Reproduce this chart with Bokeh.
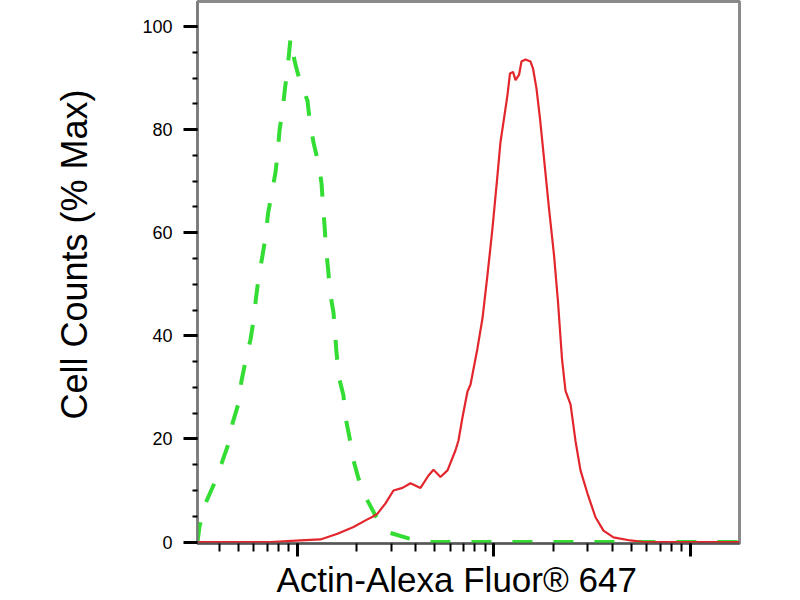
from bokeh.plotting import figure
from bokeh.models import Range1d, SingleIntervalTicker, LogTicker, Title, CustomJSTickFormatter
from bokeh.embed import file_html
from bokeh.resources import INLINE

# ---- data ----
# isotype control (green dashed): fluorescence intensity vs % max
control_x = [30.98, 31.72, 34.02, 37.36, 41.04, 44.57, 46.70, 50.09, 51.88, 54.37,
             57.67, 59.74, 61.51, 63.33, 66.37, 68.76, 70.79, 73.76, 77.27, 79.10,
             80.98, 83.89, 86.38, 88.93, 92.13, 96.54, 100.0, 103.6, 108.5, 112.4,
             115.8, 120.6, 127.9, 132.5, 134.9, 137.3, 139.6, 143.0, 146.4, 152.5,
             155.2, 157.9, 162.6, 171.4, 175.5, 183.9, 192.8, 204.4, 224.4, 249.5,
             293.9, 367.2, 464.2, 17760]
control_y = [0.0, 3.0, 7.5, 11.0, 15.2, 19.1, 23.0, 26.9, 31.3, 35.0,
             39.3, 43.0, 47.4, 51.1, 55.6, 59.1, 63.7, 67.4, 71.7, 75.1,
             79.8, 83.7, 88.0, 91.7, 97.7, 93.4, 91.1, 89.1, 87.2, 85.6,
             81.3, 77.5, 73.4, 69.6, 65.1, 61.4, 56.9, 53.1, 48.4, 44.5,
             40.6, 36.8, 31.9, 28.4, 24.2, 20.3, 15.8, 12.3, 8.4, 5.1,
             1.8, 0.7, 0.0, 0.0]

# Actin-Alexa Fluor 647 stained sample (red)
actin_x = [30.98, 72.9, 103.6, 130.9, 159.8, 192.8, 221.9, 240.9, 255.3, 280.4,
           307.9, 342.2, 375.9, 422.7, 464.2, 492.1, 534.2, 580.0, 637.0, 659.7,
           691.4, 716.1, 733.1, 759.3, 824.1, 873.9, 926.6, 982.6, 1042, 1079,
           1118, 1171, 1206, 1250, 1287, 1341, 1380, 1447, 1534, 1579,
           1645, 1714, 1797, 1905, 2020, 2117, 2219, 2312, 2452, 2599,
           2756, 2991, 3285, 3608, 4057, 4951, 5766, 17760]
actin_y = [0.0, 0.0, 0.3, 0.5, 1.6, 2.9, 4.2, 4.9, 5.5, 7.5,
           10.0, 10.5, 11.4, 10.5, 12.9, 14.0, 12.6, 13.9, 17.8, 19.7,
           24.2, 27.2, 29.2, 30.5, 37.6, 43.4, 51.8, 60.9, 71.2, 77.6,
           81.5, 86.7, 90.9, 91.2, 89.6, 90.6, 93.2, 93.6, 93.2, 91.9,
           88.0, 82.2, 74.4, 64.7, 55.7, 46.6, 35.5, 29.3, 26.7, 19.6,
           13.9, 9.4, 4.8, 2.2, 0.9, 0.3, 0.0, 0.0]

x_title = "Actin-Alexa Fluor® 647"
y_title = "Cell Counts (% Max)"

FONT = "Liberation Sans"

p = figure(width=800, height=600, x_axis_type="log",
           x_range=Range1d(30.98, 17760), y_range=Range1d(-0.29, 104.85),
           output_backend="svg", toolbar_location=None,
           min_border_left=197, min_border_right=61,
           min_border_top=1, min_border_bottom=57)

p.background_fill_color = "white"
p.border_fill_color = "white"
p.outline_line_color = "#8a8a8a"
p.outline_line_width = 3
p.xgrid.visible = False
p.ygrid.visible = False

# y axis
p.yaxis.ticker = SingleIntervalTicker(interval=20, num_minor_ticks=4)
p.yaxis.axis_line_color = "#7a7a7a"
p.yaxis.axis_line_width = 2
p.yaxis.major_tick_line_color = "black"
p.yaxis.major_tick_line_width = 3
p.yaxis.major_tick_out = 14
p.yaxis.major_tick_in = 0
p.yaxis.minor_tick_line_color = "black"
p.yaxis.minor_tick_line_width = 2
p.yaxis.minor_tick_out = 5
p.yaxis.minor_tick_in = 0
p.yaxis.major_label_text_font = FONT
p.yaxis.major_label_text_font_size = "18px"
p.yaxis.major_label_text_color = "black"
p.yaxis.major_label_standoff = 11

# x axis (log, no tick labels)
p.xaxis.ticker = LogTicker(num_minor_ticks=10)
p.xaxis.formatter = CustomJSTickFormatter(code="return ''")
p.xaxis.major_label_text_font_size = "1px"
p.xaxis.axis_line_color = "#555555"
p.xaxis.axis_line_width = 2
p.xaxis.major_tick_line_color = "black"
p.xaxis.major_tick_line_width = 3
p.xaxis.major_tick_out = 13
p.xaxis.major_tick_in = 0
p.xaxis.minor_tick_line_color = "black"
p.xaxis.minor_tick_line_width = 2
p.xaxis.minor_tick_out = 8
p.xaxis.minor_tick_in = 0
p.xaxis.major_label_standoff = 0

# axis titles as side titles (so they can sit off-centre as in the reference)
p.add_layout(Title(text=x_title, align="left", offset=79, standoff=3,
                   text_font=FONT, text_font_size="35px", text_font_style="normal",
                   text_color="black"), "below")
p.add_layout(Title(text=y_title, align="left", offset=124, standoff=89,
                   text_font=FONT, text_font_size="36px", text_font_style="normal",
                   text_color="black"), "left")

# curves
p.line(control_x, control_y, line_color="#33dd33", line_width=4, line_dash="20 21")
p.line(actin_x, actin_y, line_color="#e3262c", line_width=2.2)

open("out.html", "w").write(file_html(p, INLINE))
